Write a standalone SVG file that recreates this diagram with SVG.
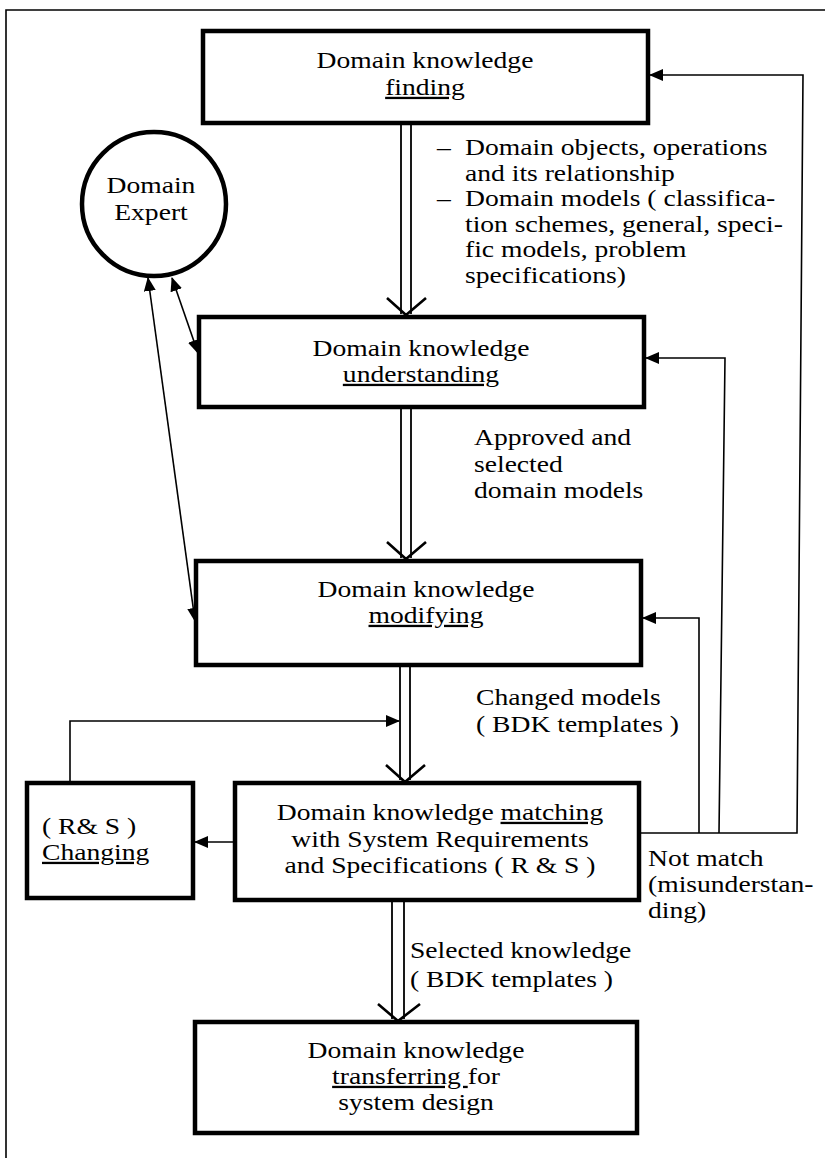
<svg xmlns="http://www.w3.org/2000/svg" width="825" height="1158" viewBox="0 0 825 1158">
<style>
text{font-family:"Liberation Serif","Times New Roman",serif;font-size:23px;fill:#000}
.c{text-anchor:middle}
.u{text-decoration:underline}
.box{fill:#fff;stroke:#000;stroke-width:4.5}
.thin{fill:none;stroke:#000;stroke-width:1.6}
.dbl{fill:none;stroke:#000;stroke-width:1.8}
.vee{fill:none;stroke:#000;stroke-width:2.6;stroke-linejoin:miter}
</style>
<defs>
<marker id="ah" markerUnits="userSpaceOnUse" markerWidth="14" markerHeight="12" refX="13" refY="6" orient="auto-start-reverse">
<path d="M0,0 L14,6 L0,12 Z" fill="#000"/>
</marker>
</defs>
<g id="frame">
<path class="thin" d="M6,1158 L6,10 L825,10"/>
</g>
<g id="connectors">
<path class="dbl" d="M401,123 V314 M411,123 V314"/>
<path class="vee" d="M387,298 L406,315 L426,298"/>
<path class="dbl" d="M401,407 V558 M411,407 V558"/>
<path class="vee" d="M387,542 L406,559 L426,542"/>
<path class="dbl" d="M400,665 V780 M410,665 V780"/>
<path class="vee" d="M386,765 L405,782 L425,765"/>
<path class="dbl" d="M392,900 V1019 M404,900 V1019"/>
<path class="vee" d="M378,1004 L398,1021 L420,1004"/>
<path class="thin" d="M639,833 L797,833 L803,75 L650,75" marker-end="url(#ah)"/>
<path class="thin" d="M719,833 L725,358 L646,358" marker-end="url(#ah)"/>
<path class="thin" d="M699,833 L699,618 L643,618" marker-end="url(#ah)"/>
<path class="thin" d="M70,783 L70,721 L399,721" marker-end="url(#ah)"/>
<path class="thin" d="M235,842 L195,842" marker-end="url(#ah)"/>
<path class="thin" d="M172,278 L198,353" marker-start="url(#ah)" marker-end="url(#ah)"/>
<path class="thin" d="M148,278 L195,621" marker-start="url(#ah)" marker-end="url(#ah)"/>
</g>
<g id="finding">
<rect class="box" x="203" y="31" width="445" height="92"/>
<g transform="scale(1.2,1)">
<text class="c" x="354.17" y="68">Domain knowledge<tspan x="354.17" dy="27" class="u">finding</tspan></text>
</g>
</g>
<g id="expert">
<circle cx="154" cy="204" r="72" fill="#fff" stroke="#000" stroke-width="4.5"/>
<g transform="scale(1.2,1)">
<text class="c" x="125.83" y="193">Domain<tspan x="125.83" dy="27">Expert</tspan></text>
</g>
</g>
<g id="understanding">
<rect class="box" x="199" y="317" width="445" height="90"/>
<g transform="scale(1.2,1)">
<text class="c" x="350.83" y="356">Domain knowledge<tspan x="350.83" dy="26" class="u">understanding</tspan></text>
</g>
</g>
<g id="modifying">
<rect class="box" x="196" y="561" width="445" height="104"/>
<g transform="scale(1.2,1)">
<text class="c" x="355" y="597">Domain knowledge<tspan x="355" dy="26" class="u">modifying</tspan></text>
</g>
</g>
<g id="matching">
<rect class="box" x="235" y="783" width="404" height="117"/>
<g transform="scale(1.2,1)">
<text class="c" x="366.67" y="820">Domain knowledge <tspan class="u">matching</tspan><tspan x="366.67" dy="27">with System Requirements</tspan><tspan x="366.67" dy="26">and Specifications ( R &amp; S )</tspan></text>
</g>
</g>
<g id="rs-changing">
<rect class="box" x="27" y="783" width="166" height="115"/>
<g transform="scale(1.2,1)">
<text x="35" y="834">( R&amp; S )<tspan x="35" dy="26" class="u">Changing</tspan></text>
</g>
</g>
<g id="transferring">
<rect class="box" x="195" y="1022" width="442" height="111"/>
<g transform="scale(1.2,1)">
<text class="c" x="346.67" y="1058">Domain knowledge<tspan x="346.67" dy="26"><tspan class="u">transferring </tspan>for</tspan><tspan x="346.67" dy="26">system design</tspan></text>
</g>
</g>
<g id="labels" transform="scale(1.2,1)">
<text x="364.17" y="155">–<tspan x="364.17" dy="51.2">–</tspan></text>
<text x="387.5" y="155">Domain objects, operations<tspan x="387.5" dy="25.6">and its relationship</tspan><tspan x="387.5" dy="25.6">Domain models ( classifica-</tspan><tspan x="387.5" dy="25.6">tion schemes, general, speci-</tspan><tspan x="387.5" dy="25.6">fic models, problem</tspan><tspan x="387.5" dy="25.6">specifications)</tspan></text>
<text x="395" y="445">Approved and<tspan x="395" dy="27">selected</tspan><tspan x="395" dy="26">domain models</tspan></text>
<text x="396.67" y="705">Changed models<tspan x="396.67" dy="27">( BDK templates )</tspan></text>
<text x="540" y="866">Not match<tspan x="540" dy="26">(misunderstan-</tspan><tspan x="540" dy="26">ding)</tspan></text>
<text x="341.67" y="958">Selected knowledge<tspan x="341.67" dy="29">( BDK templates )</tspan></text>
</g>
</svg>
